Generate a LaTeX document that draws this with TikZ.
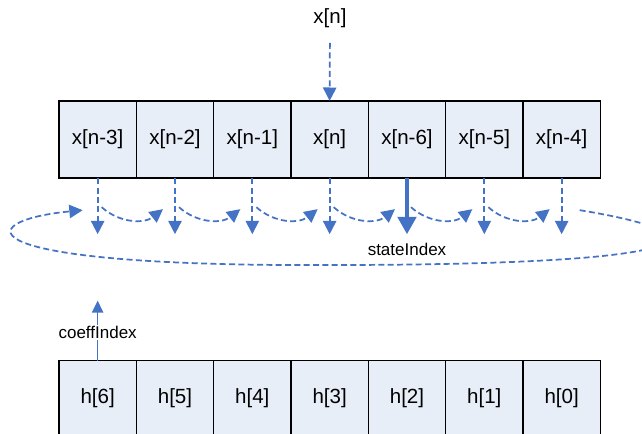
\documentclass[tikz,border=0pt]{standalone}
\usepackage{fontspec}
\setmainfont{Liberation Sans}
\usetikzlibrary{arrows.meta, positioning, calc}
\definecolor{cellfill}{RGB}{232,238,247}
\definecolor{flowblue}{RGB}{68,114,196}

\begin{document}
\begin{tikzpicture}[
    x=0.75pt, y=0.75pt,
    node distance=0pt,
    cell/.style={rectangle, draw, line width=1.1pt, fill=cellfill, outer sep=0pt, minimum width=58pt, minimum height=58pt, font=\fontsize{15.4}{18}\selectfont},
    coef/.style={cell, minimum height=56pt},
    tag/.style={font=\fontsize{12.75}{15}\selectfont, text=black},
    dasharrow/.style={-{Triangle[width=10pt,length=10pt]}, color=flowblue, line width=1.3pt, dash pattern=on 4.5pt off 2.5pt},
    statearrow/.style={-{Triangle[width=14pt,length=13pt]}, color=flowblue, line width=2.3pt},
    idxarrow/.style={-{Triangle[width=8.5pt,length=9pt]}, color=flowblue, line width=1.2pt}
]
\useasboundingbox (0,0) rectangle (642,433);
\clip (0,0) rectangle (642,433);

% Buffer de estados
\node[cell] (s1) at (97.65,293.5) {x[n-3]};
\node[cell, right=of s1] (s2) {x[n-2]};
\node[cell, right=of s2] (s3) {x[n-1]};
\node[cell, right=of s3] (s4) {x[n]};
\node[cell, right=of s4] (s5) {x[n-6]};
\node[cell, right=of s5] (s6) {x[n-5]};
\node[cell, right=of s6] (s7) {x[n-4]};

% Coeficientes
\node[coef] (h1) at (97.65,35) {h[6]};
\node[coef, right=of h1] (h2) {h[5]};
\node[coef, right=of h2] (h3) {h[4]};
\node[coef, right=of h3] (h4) {h[3]};
\node[coef, right=of h4] (h5) {h[2]};
\node[coef, right=of h5] (h6) {h[1]};
\node[coef, right=of h6] (h7) {h[0]};

% Entrada
\node[font=\fontsize{15.4}{18}\selectfont] (xin) at (330,415) {x[n]};
\draw[dasharrow, shorten <=8pt] (xin) -- (s4.north);

% Setas de leitura
\foreach \i in {1,...,7} {
    \coordinate (d\i) at ($(s\i.south)+(0,-56)$);
    \coordinate (a\i) at ($(s\i.south)+(4,-29)$);
    \coordinate (b\i) at ($(s\i.south)+(-12,-31)$);
}
\foreach \i in {1,2,3,4,6,7}
    \draw[dasharrow] (s\i.south) -- (d\i);
\draw[statearrow] (s5.south) -- (d5);

% Avanço circular
\foreach \i [evaluate=\i as \j using int(\i+1)] in {1,...,6}
    \draw[dasharrow] (a\i) to[bend right=40] (b\j);
\coordinate (back) at ($(s7.south)+(18,-32)$);
\coordinate (loop) at ($(s1.south)+(-15,-32)$);
\draw[dasharrow] (back) .. controls (720,200) and (730,168) .. (330,168)
    .. controls (-40,166) and (-30,212) .. (loop);

\node[tag, below=3pt of d5] (state) {stateIndex};

% Índice dos coeficientes
\coordinate (c1) at ($(h1.north)+(0,60)$);
\draw[idxarrow] (h1.north) -- (c1) node[tag, pos=0.47, fill=white, inner sep=1pt] (coeff) {coeffIndex};

\end{tikzpicture}
\end{document}
